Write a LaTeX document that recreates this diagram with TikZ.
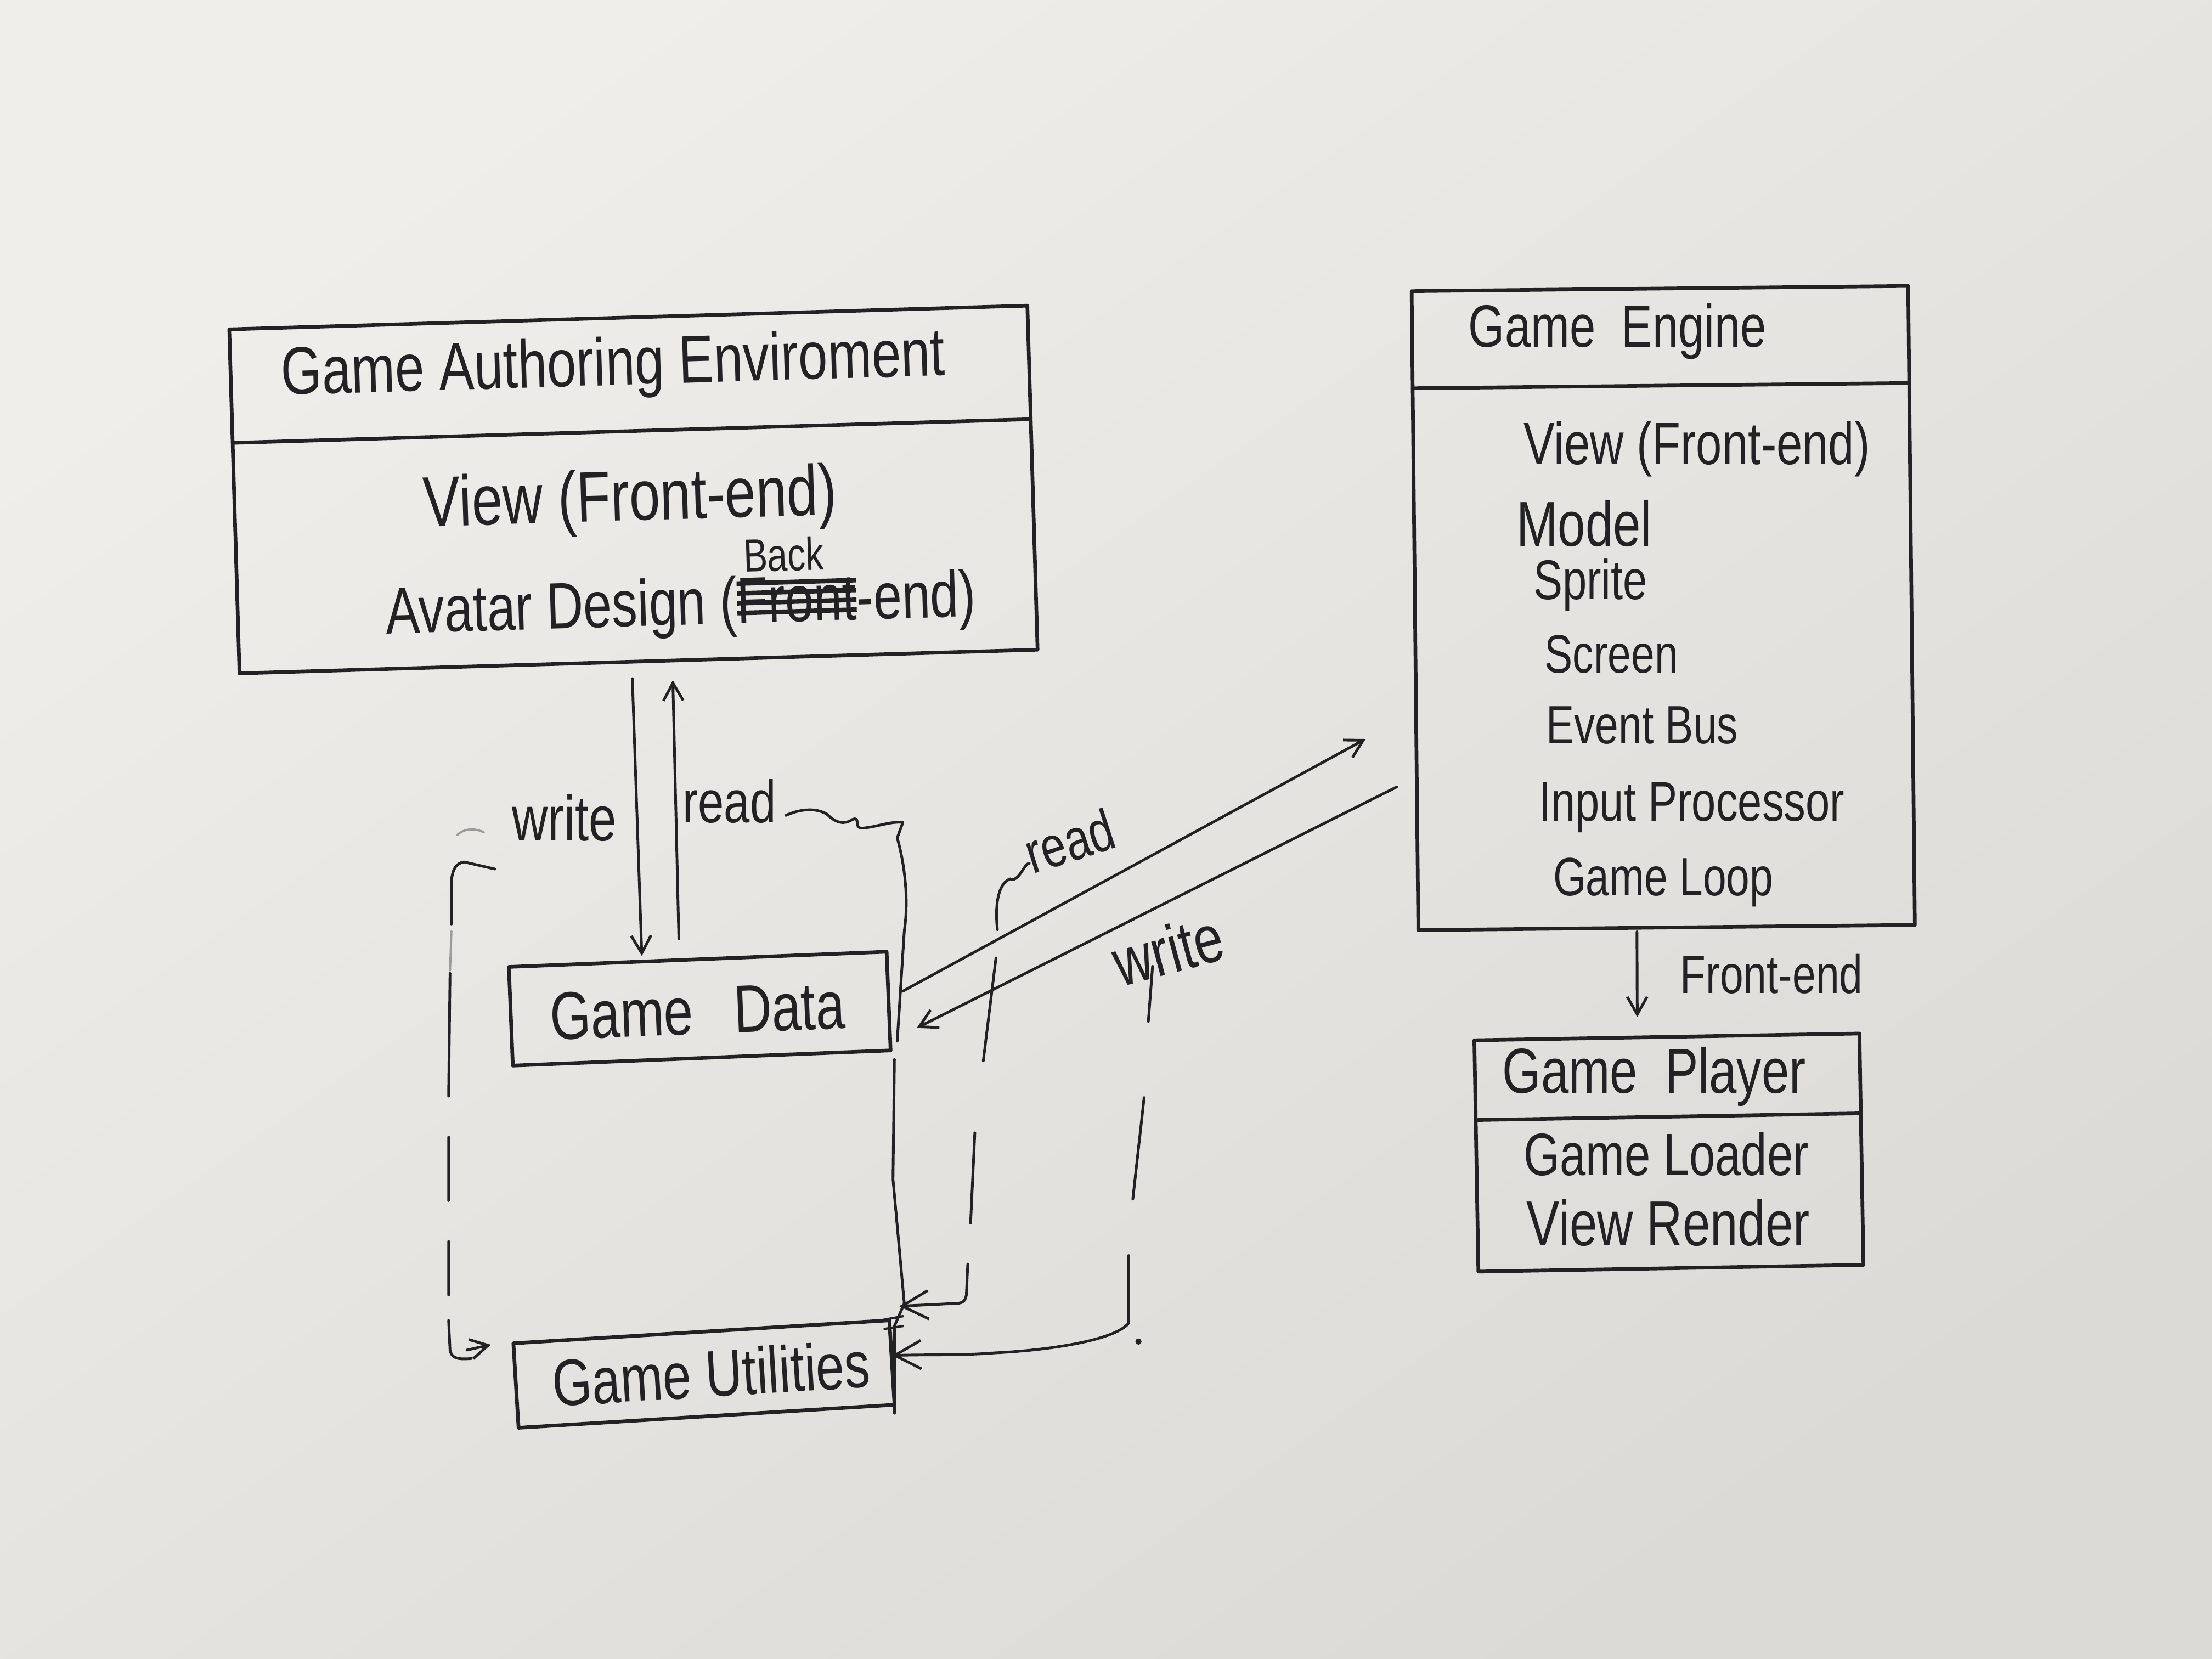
\documentclass[tikz,border=0pt]{standalone}
\usepackage{fontspec}
\setmainfont{Liberation Sans}[FakeStretch=0.78]
\usetikzlibrary{calc,arrows.meta}

\definecolor{ink}{RGB}{34,34,36}
\definecolor{paperA}{RGB}{239,238,235}
\definecolor{paperB}{RGB}{219,218,214}

% pen-sized text
\newcommand{\penfs}[1]{\fontsize{#1pt}{#1pt}\selectfont}
% one drawing unit
\newcommand{\ux}{0.025714cm}
% a word scribbled out with several strokes
\newcommand{\scribout}[1]{%
  \setbox0=\hbox{#1}%
  \rlap{\copy0}%
  \rlap{\raisebox{0.12em}{\rule{\wd0}{0.07em}}}%
  \rlap{\raisebox{0.27em}{\rule{\wd0}{0.07em}}}%
  \rlap{\raisebox{0.42em}{\rule{\wd0}{0.07em}}}%
  \rlap{\raisebox{0.57em}{\rule{\wd0}{0.07em}}}%
  \hbox to \wd0{}}

\begin{document}
\begin{tikzpicture}[x=0.025714cm, y=-0.025714cm, line cap=round, line join=round,
  box/.style={draw=ink, line width=1.9pt, inner sep=0pt, outer sep=0pt},
  rulebar/.style={draw=ink, line width=1.9pt},
  pen/.style={text=ink, inner sep=0pt, outer sep=0pt},
  conn/.style={draw=ink, line width=1.4pt},
  tip/.style={-{Straight Barb[length=0.32cm,width=0.36cm]}},
  bigtip/.style={-{Straight Barb[length=0.48cm,width=0.52cm]}}]

% paper
\shade[top color=paperA, bottom color=paperB, shading angle=35] (0,0) rectangle (1568,1176);
\useasboundingbox (0,0) rectangle (1568,1176);

% ---------- Game Authoring Environment ----------
\node[box, rotate=1.7, minimum width=566*\ux, minimum height=244*\ux] (gae) at (449,347) {};
\draw[rulebar] ($(gae.north west)!0.33!(gae.south west)$) -- ($(gae.north east)!0.33!(gae.south east)$);
\node[pen, rotate=1.7, anchor=base, font={\penfs{35}}] (gaeT) at (435,273) {Game Authoring Enviroment};
\node[pen, rotate=1.7, anchor=base, font={\penfs{37}}] (gaeV) at (447,369) {View (Front-end)};
\node[pen, rotate=1.7, anchor=base, font={\penfs{34}}] (gaeA) at (483,443)
  {Avatar Design (\rlap{\raisebox{0.78em}{\penfs{24}\,Back}}\scribout{Front}-end)};

% ---------- Game Engine ----------
\node[box, rotate=0.6, minimum width=352*\ux, minimum height=453*\ux] (ge) at (1179,431) {};
\draw[rulebar] ($(ge.north west)!0.152!(ge.south west)$) -- ($(ge.north east)!0.152!(ge.south east)$);
\node[pen, anchor=base west, font={\penfs{31}}] (geT) at (1041,246) {Game\ \ Engine};
\node[pen, anchor=base west, font={\penfs{31}}] (geV) at (1080,329) {View (Front-end)};
\node[pen, anchor=base west, font={\penfs{33}}] (geM) at (1075,387) {Model};
\node[pen, anchor=base west, font={\penfs{29}}] (geS) at (1087,425) {Sprite};
\node[pen, anchor=base west, font={\penfs{28}}] (geC) at (1095,477) {Screen};
\node[pen, anchor=base west, font={\penfs{28}}] (geB) at (1096,527) {Event Bus};
\node[pen, anchor=base west, font={\penfs{29}}] (geI) at (1091,582) {Input Processor};
\node[pen, anchor=base west, font={\penfs{28}}] (geL) at (1101,635) {Game Loop};

% ---------- Game Player ----------
\node[box, rotate=1, minimum width=273*\ux, minimum height=164*\ux] (gp) at (1183,817) {};
\draw[rulebar] ($(gp.north west)!0.345!(gp.south west)$) -- ($(gp.north east)!0.345!(gp.south east)$);
\node[pen, anchor=base west, font={\penfs{33}}] (gpT) at (1065,775) {Game\ \ Player};
\node[pen, anchor=base west, font={\penfs{31}}] (gpL) at (1080,833) {Game Loader};
\node[pen, anchor=base west, font={\penfs{33}}] (gpR) at (1082,883) {View Render};

% ---------- Game Data / Game Utilities ----------
\node[box, rotate=2.3, minimum width=268*\ux, minimum height=70*\ux] (gd) at (496,715) {};
\node[pen, rotate=2.3, anchor=base, font={\penfs{35}}] (gdT) at (495,733) {Game\hspace{0.6em}Data};
\node[box, rotate=3.5, minimum width=267*\ux, minimum height=60*\ux] (gu) at (499,974) {};
\node[pen, rotate=3.5, anchor=base, font={\penfs{34}}] (guT) at (505,990) {Game Utilities};

% ---------- labels on the connectors ----------
\node[pen, font={\penfs{33}}] (wrgae) at (400,580) {write};
\node[pen, font={\penfs{31}}] (rdgae) at (517,568) {read};
\node[pen, rotate=18, font={\penfs{30}}] (rddiag) at (758,596) {read};
\node[pen, rotate=15, font={\penfs{35}}] (wrdiag) at (828,673) {write};
\node[pen, anchor=base west, font={\penfs{28}}] (fe) at (1191,704) {Front-end};

% ---------- connectors ----------
% authoring environment <-> game data
\draw[conn, tip] ($(gae.south west)!0.494!(gae.south east)+(-1,12)$)
  -- ($(gd.north west)!0.352!(gd.north east)+(0,-4)$);
\draw[conn, tip] ($(gd.north west)!0.45!(gd.north east)+(0,-15)$)
  -- ($(gae.south west)!0.543!(gae.south east)+(0,14)$);

% game data <-> game engine
\draw[conn, tip] ($(gd.east)+(10,-7)$) -- ($(ge.west)+(-35,91)$);
\draw[conn, tip] ($(ge.west)+(-13,125)$) -- ($(gd.east)+(20,19)$);

% game engine -> game player
\draw[conn, tip] ($(ge.south)+(-21,3)$) -- ($(gp.north)+(-21,-14)$);

% "write" of the authoring environment, also into the utilities
\draw[ink!45, line width=1.1pt] (324,592) .. controls (329,587) and (337,587) .. (343,590);
\draw[conn, tip] ($(wrgae.west)+(-12,36)$) -- (329,611) .. controls (323,612) and (321,616) .. (320,624) -- (320,655)
  (319,690) -- (318,777) (318,806) -- (318,851) (318,880) -- (318,918)
  (318,936) -- (319,957) .. controls (320,962) and (323,964) .. (334,963)
  (331,957) -- ($(gu.north west)+(-16,1)$);
\draw[ink!45, line width=1.1pt] (320,660) -- (319,688);

% "read" of the authoring environment, also from the utilities
\draw[conn] ($(rdgae.east)+(7,10)$) .. controls (566,574) and (577,572) .. (586,577)
  .. controls (592,583) and (598,585) .. (604,581)
  .. controls (611,578) and (604,588) .. (612,587)
  .. controls (622,586) and (632,582) .. (640,583)
  -- (636,594) .. controls (642,615) and (644,640) .. (641,660) -- (636,738)
  (634,751) -- (633,836) -- (641,924) -- (634,940) -- ($(gu.south east)+(0,6)$);

% "read" of the game engine, also from the utilities
\draw[conn, bigtip] ($(rddiag.west)+(2,6)$) .. controls (726,612) and (722,626) .. (716,623)
  .. controls (708,626) and (705,640) .. (707,659)
  (706,679) -- (697,752) (691,803) -- (688,867)
  (686,896) -- (685,918) .. controls (684,923) and (682,924) .. (676,924)
  -- ($(gu.north east)+(7,-10)$);

% "write" of the game engine, also into the utilities
\draw[conn, bigtip] ($(wrdiag.center)+(-11,12)$) -- (814,724)
  (811,778) -- (803,850)
  (800,890) -- (800,938) .. controls (790,950) and (745,957) .. (705,959)
  .. controls (680,961) and (660,960) .. ($(gu.east)+(0,-5)$);

% pen marks at the corner of the utilities box
\draw[ink, line width=1.2pt] (624,936) -- (640,933) (627,942) -- (640,940);
\fill[ink] (807,951) circle (2.2);

\end{tikzpicture}
\end{document}
